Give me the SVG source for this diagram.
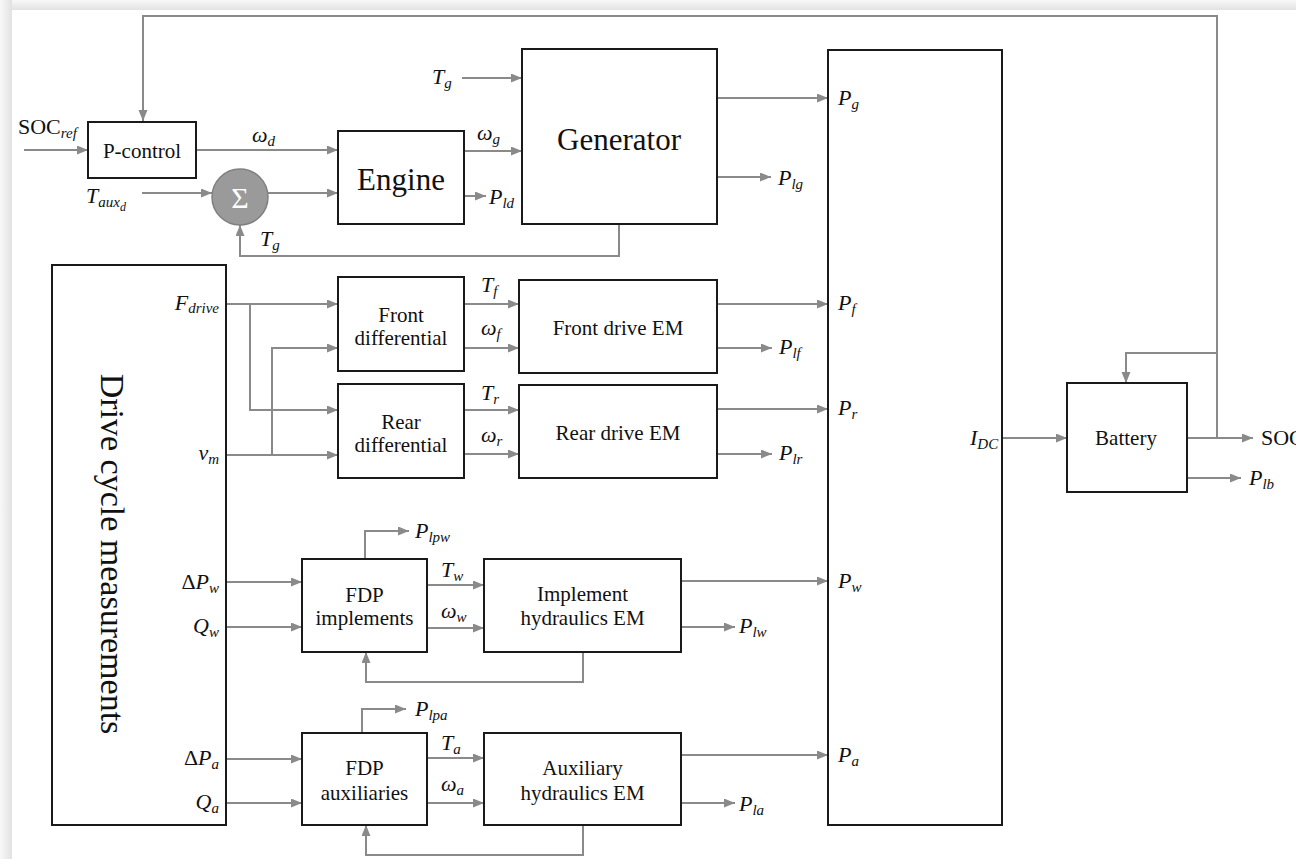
<svg xmlns="http://www.w3.org/2000/svg" width="1296" height="859" viewBox="0 0 1296 859">
<defs>
<linearGradient id="gt" x1="0" y1="0" x2="0" y2="1"><stop offset="0" stop-color="#f8f8f8"/><stop offset="1" stop-color="#e2e2e2"/></linearGradient>
<linearGradient id="gl" x1="0" y1="0" x2="1" y2="0"><stop offset="0" stop-color="#f8f8f8"/><stop offset="1" stop-color="#e2e2e2"/></linearGradient>
<marker id="a" markerUnits="userSpaceOnUse" markerWidth="12" markerHeight="10" refX="11" refY="4.5" orient="auto"><path d="M0,0 L11,4.5 L0,9 z" fill="#8a8a8a"/></marker>
</defs>
<style>
.box{fill:#fff;stroke:#1a1a1a;stroke-width:2}
.ln{fill:none;stroke:#8a8a8a;stroke-width:2;marker-end:url(#a)}
.pl{fill:none;stroke:#8a8a8a;stroke-width:2}
</style>
<rect x="0" y="0" width="1296" height="859" fill="#f2f2f2"/>
<rect x="0" y="0" width="1296" height="10" fill="url(#gt)"/>
<rect x="0" y="0" width="12" height="859" fill="url(#gl)"/>
<rect x="12" y="10" width="1284" height="849" fill="#fff"/>

<g id="connectors">
<path class="pl" d="M1217,438 V16 H143 V100"/>
<path class="ln" d="M143,99 V121"/>
<path class="ln" d="M1217,353 H1126 V383"/>
<path class="ln" d="M1187,438 H1253"/>
<path class="ln" d="M1187,478 H1241"/>
<path class="ln" d="M1002,438 H1067"/>
<path class="ln" d="M24,150 H88"/>
<path class="ln" d="M196,150 H338"/>
<path class="ln" d="M142,193 H212"/>
<path class="ln" d="M268,193 H338"/>
<path class="ln" d="M619,224 V256 H240 V225"/>
<path class="ln" d="M462,78 H522"/>
<path class="ln" d="M464,151 H522"/>
<path class="ln" d="M464,196 H486"/>
<path class="ln" d="M717,98 H828"/>
<path class="ln" d="M717,177 H771"/>
<path class="ln" d="M226,304 H338"/>
<path class="ln" d="M250,304 V410 H338"/>
<path class="ln" d="M226,455 H338"/>
<path class="ln" d="M272,455 V348 H338"/>
<path class="ln" d="M464,304 H519"/>
<path class="ln" d="M464,348 H519"/>
<path class="ln" d="M464,410 H519"/>
<path class="ln" d="M464,454 H519"/>
<path class="ln" d="M717,304 H828"/>
<path class="ln" d="M717,348 H772"/>
<path class="ln" d="M717,409 H828"/>
<path class="ln" d="M717,454 H772"/>
<path class="ln" d="M226,582 H302"/>
<path class="ln" d="M226,627 H302"/>
<path class="ln" d="M226,759 H302"/>
<path class="ln" d="M226,803 H302"/>
<path class="ln" d="M365,559 V531 H409"/>
<path class="ln" d="M362,733 V709 H406"/>
<path class="ln" d="M427,585 H484"/>
<path class="ln" d="M427,628 H484"/>
<path class="ln" d="M427,758 H484"/>
<path class="ln" d="M427,803 H484"/>
<path class="ln" d="M681,581 H828"/>
<path class="ln" d="M681,627 H735"/>
<path class="ln" d="M681,755 H828"/>
<path class="ln" d="M681,803 H735"/>
<path class="ln" d="M583,652 V682 H366 V652"/>
<path class="ln" d="M583,825 V855 H366 V825"/>
</g>

<g font-family="Liberation Serif, serif" font-size="21" fill="#111" text-anchor="middle">
<g id="pcontrol"><rect class="box" x="88" y="122" width="108" height="56"/><text x="142" y="158">P-control</text></g>
<g id="sum"><circle cx="240" cy="197" r="28" fill="#9a9a9a" stroke="#808080" stroke-width="1.5"/><text x="240" y="208" font-size="30" fill="#fff">Σ</text></g>
<g id="engine"><rect class="box" x="338" y="131" width="126" height="93"/><text x="401" y="190" font-size="31">Engine</text></g>
<g id="generator"><rect class="box" x="522" y="49" width="195" height="175"/><text x="619" y="150" font-size="31">Generator</text></g>
<g id="dcbus"><rect class="box" x="828" y="50" width="174" height="775"/></g>
<g id="battery"><rect class="box" x="1067" y="383" width="120" height="109"/><text x="1126" y="445">Battery</text></g>
<g id="drivecycle"><rect class="box" x="52" y="265" width="174" height="560"/><text font-size="34" transform="translate(101,554) rotate(90)">Drive cycle measurements</text></g>
<g id="frontdiff"><rect class="box" x="338" y="277" width="126" height="94"/><text x="401" y="322">Front</text><text x="401" y="345">differential</text></g>
<g id="reardiff"><rect class="box" x="338" y="384" width="126" height="94"/><text x="401" y="429">Rear</text><text x="401" y="452">differential</text></g>
<g id="frontem"><rect class="box" x="519" y="280" width="198" height="93"/><text x="618" y="335">Front drive EM</text></g>
<g id="rearem"><rect class="box" x="519" y="385" width="198" height="93"/><text x="618" y="440">Rear drive EM</text></g>
<g id="fdpimpl"><rect class="box" x="302" y="559" width="125" height="93"/><text x="364.5" y="602">FDP</text><text x="364.5" y="625">implements</text></g>
<g id="implem"><rect class="box" x="484" y="559" width="197" height="93"/><text x="582.5" y="601">Implement</text><text x="582.5" y="625">hydraulics EM</text></g>
<g id="fdpaux"><rect class="box" x="302" y="733" width="125" height="92"/><text x="364.5" y="775">FDP</text><text x="364.5" y="800">auxiliaries</text></g>
<g id="auxem"><rect class="box" x="484" y="733" width="197" height="92"/><text x="582.5" y="775">Auxiliary</text><text x="582.5" y="800">hydraulics EM</text></g>
</g>

<g id="labels" font-family="Liberation Serif, serif" font-size="22" font-style="italic" fill="#111">
<text x="18" y="134"><tspan font-style="normal">SOC</tspan><tspan font-size="15" dy="4">ref</tspan></text>
<text x="252" y="142">ω<tspan font-size="15" dy="4">d</tspan></text>
<text x="86" y="203">T<tspan font-size="15" dy="4">aux</tspan><tspan font-size="12" dy="4">d</tspan></text>
<text x="260" y="246">T<tspan font-size="15" dy="4">g</tspan></text>
<text x="432" y="84">T<tspan font-size="15" dy="4">g</tspan></text>
<text x="477" y="140">ω<tspan font-size="15" dy="4">g</tspan></text>
<text x="489" y="204">P<tspan font-size="15" dy="4">ld</tspan></text>
<text x="838" y="105">P<tspan font-size="15" dy="4">g</tspan></text>
<text x="778" y="185">P<tspan font-size="15" dy="4">lg</tspan></text>
<text x="219" y="310" text-anchor="end">F<tspan font-size="15" dy="3">drive</tspan></text>
<text x="219" y="460" text-anchor="end">v<tspan font-size="15" dy="4">m</tspan></text>
<text x="481" y="292">T<tspan font-size="15" dy="4">f</tspan></text>
<text x="481" y="335">ω<tspan font-size="15" dy="4">f</tspan></text>
<text x="481" y="400">T<tspan font-size="15" dy="4">r</tspan></text>
<text x="481" y="442">ω<tspan font-size="15" dy="4">r</tspan></text>
<text x="838" y="310">P<tspan font-size="15" dy="4">f</tspan></text>
<text x="779" y="354">P<tspan font-size="15" dy="4">lf</tspan></text>
<text x="838" y="415">P<tspan font-size="15" dy="4">r</tspan></text>
<text x="779" y="460">P<tspan font-size="15" dy="4">lr</tspan></text>
<text x="219" y="589" text-anchor="end"><tspan font-style="normal">Δ</tspan>P<tspan font-size="15" dy="4">w</tspan></text>
<text x="219" y="633" text-anchor="end">Q<tspan font-size="15" dy="4">w</tspan></text>
<text x="219" y="765" text-anchor="end"><tspan font-style="normal">Δ</tspan>P<tspan font-size="15" dy="4">a</tspan></text>
<text x="219" y="809" text-anchor="end">Q<tspan font-size="15" dy="4">a</tspan></text>
<text x="415" y="538">P<tspan font-size="15" dy="4">lpw</tspan></text>
<text x="415" y="716">P<tspan font-size="15" dy="4">lpa</tspan></text>
<text x="441" y="577">T<tspan font-size="15" dy="4">w</tspan></text>
<text x="441" y="618">ω<tspan font-size="15" dy="4">w</tspan></text>
<text x="441" y="750">T<tspan font-size="15" dy="4">a</tspan></text>
<text x="441" y="791">ω<tspan font-size="15" dy="4">a</tspan></text>
<text x="838" y="588">P<tspan font-size="15" dy="4">w</tspan></text>
<text x="739" y="633">P<tspan font-size="15" dy="4">lw</tspan></text>
<text x="838" y="762">P<tspan font-size="15" dy="4">a</tspan></text>
<text x="739" y="811">P<tspan font-size="15" dy="4">la</tspan></text>
<text x="970" y="445">I<tspan font-size="15" dy="4">DC</tspan></text>
<text x="1261" y="445" font-style="normal">SOC</text>
<text x="1249" y="485">P<tspan font-size="15" dy="4">lb</tspan></text>
</g>
</svg>
